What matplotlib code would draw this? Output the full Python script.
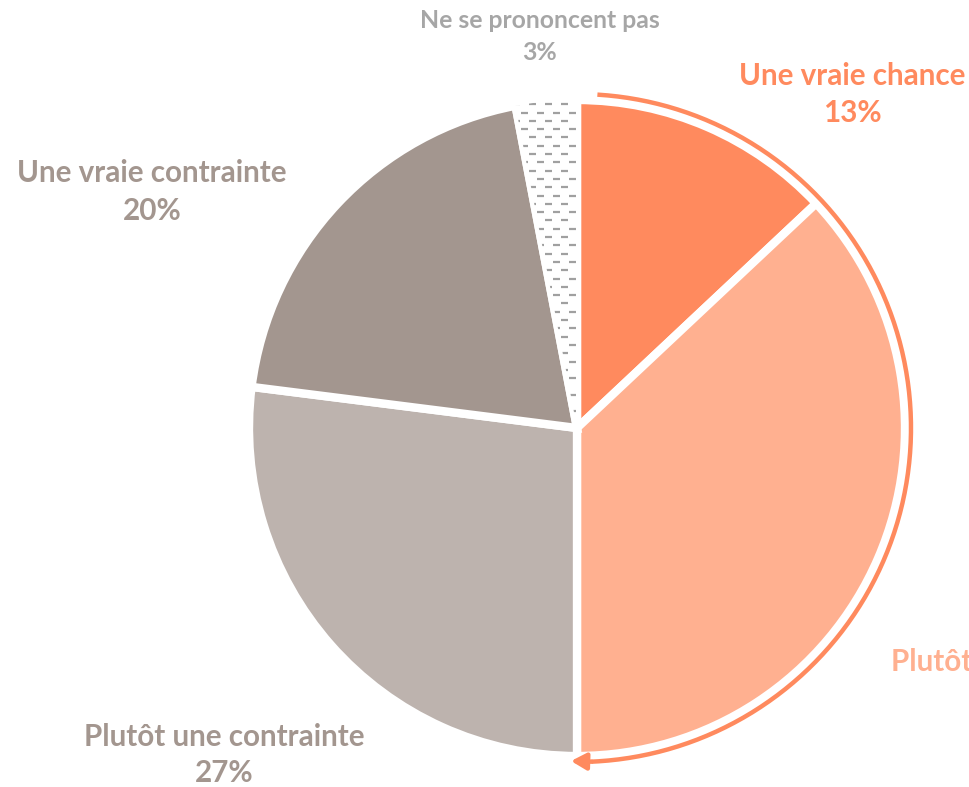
import numpy as np
import matplotlib.pyplot as plt
from matplotlib.collections import LineCollection

# données (sens horaire depuis le haut)
categories = ['Une vraie chance', 'Plutôt une chance', 'Plutôt une contrainte',
              'Une vraie contrainte', 'Ne se prononcent pas']
valeurs = [13, 37, 27, 20, 3]
couleurs = ['#FF8A5E', '#FFB090', '#BDB3AE', '#A3968F', 'white']
couleurs_txt = ['#FF8A5E', '#FFB090', '#A3968F', '#A3968F', '#A6A6A6']

W, H = 969, 787
cx, cy, R = 577, H - 428, 328

fig = plt.figure(figsize=(W / 100, H / 100), dpi=100)
ax = fig.add_axes([0, 0, 1, 1])

wedges, _ = ax.pie(valeurs, colors=couleurs, startangle=90, counterclock=False,
                   center=(cx, cy), radius=R, frame=True,
                   wedgeprops=dict(edgecolor='white', linewidth=6))
ax.set_xlim(0, W)
ax.set_ylim(0, H)
ax.set_aspect('equal')
ax.axis('off')

# motif en tirets pour "Ne se prononcent pas"
segs = []
for k, y in enumerate(np.arange(cy, cy + R + 10, 8.3)):
    off = 0 if k % 2 == 0 else 8
    for x in np.arange(cx - 120 + off, cx + 10, 16):
        segs.append([(x, y), (x + 7, y)])
lc = LineCollection(segs, colors='#A0A0A0', linewidths=1.6)
ax.add_collection(lc)
lc.set_clip_path(wedges[4])

# arc fléché autour des "chances"
ra = 334
t = np.radians(np.linspace(86.5, -87.5, 300))
ax.plot(cx + ra * np.cos(t), cy + ra * np.sin(t), color='#FF8A5E', lw=3.2,
        solid_capstyle='butt')
tb = np.radians(-87.5)
ax.annotate('', xy=(cx - 6, cy - ra + 1), xytext=(cx + ra * np.cos(tb), cy + ra * np.sin(tb)),
            arrowprops=dict(arrowstyle='-|>,head_length=0.9,head_width=0.5',
                            color='#FF8A5E', lw=3.2, shrinkA=0, shrinkB=0))

# étiquettes
pcts = [f'{v}%' for v in valeurs]
pos = [(852, 76, 113), (1010, 662, 700), (152, 737, 773), (152, 173, 211), (540, 20, 52)]
pos[2] = (224, 737, 773)
tailles = [21.3, 21.3, 21.3, 21.3, 17.8]
for i in range(5):
    x, y1, y2 = pos[i]
    ax.text(x, H - y1, categories[i], ha='center', va='center', fontsize=tailles[i],
            fontweight='bold', family='Lato', color=couleurs_txt[i])
    ax.text(x, H - y2, pcts[i], ha='center', va='center', fontsize=tailles[i],
            fontweight='bold', family='Lato', color=couleurs_txt[i])

fig.savefig('out.png', dpi=100)
